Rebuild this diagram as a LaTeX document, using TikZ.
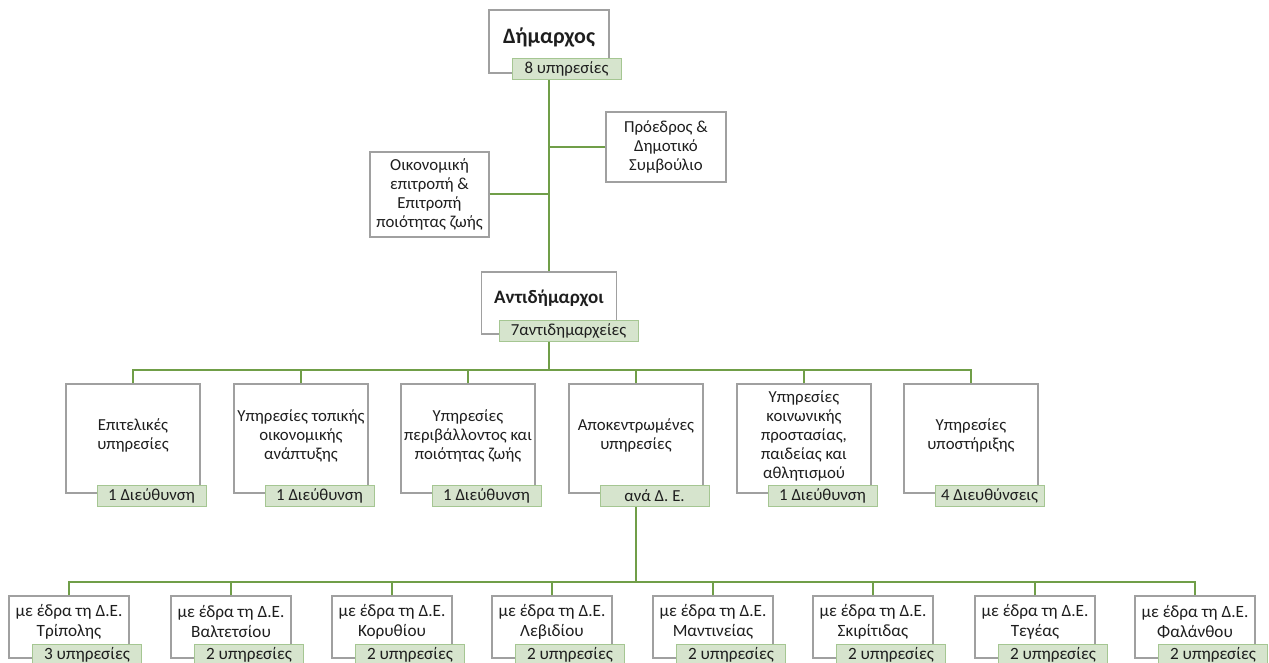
\documentclass[tikz,border=0pt]{standalone}
\usepackage{fontspec}
\setmainfont{Carlito}
\definecolor{boxgray}{RGB}{160,160,160}
\definecolor{conngreen}{RGB}{112,158,72}
\definecolor{tagfill}{RGB}{214,228,205}
\definecolor{tagdraw}{RGB}{165,198,146}
\definecolor{textc}{RGB}{30,30,30}
\begin{document}
\begin{tikzpicture}[x=1pt,y=-1pt,
  box/.style={draw=boxgray, line width=1.3pt, fill=white, inner sep=0pt},
  txt/.style={align=center, text=textc, font=\fontsize{16.8}{19}\selectfont},
  txtb/.style={align=center, text=textc, font=\fontsize{17.2}{20}\selectfont},
  big/.style={text=textc, font=\fontsize{19}{22}\selectfont\bfseries},
  tag/.style={draw=tagdraw, fill=tagfill, line width=1pt, minimum width=109pt, minimum height=21pt, inner sep=0pt, text=textc, font=\fontsize{16.8}{18}\selectfont},
  conn/.style={draw=conngreen, line width=2pt},
  row2/.style={box, minimum width=134pt, minimum height=109pt},
  row3/.style={box, minimum width=120pt, minimum height=62pt}
]
\useasboundingbox (0,0) rectangle (1269,663);
\clip (0,0) rectangle (1269,663);

% top
\node[box, minimum width=120pt, minimum height=63pt, label={[big, font=\fontsize{22}{24}\selectfont\bfseries, yshift=4pt]center:Δήμαρχος}] (dim) at (549,41.5) {};
\node[tag] (dimtag) at (566.5,69) {8 υπηρεσίες};

\node[box, txt, minimum width=120pt, minimum height=70pt] (pro) at (666,147) {Πρόεδρος \&\\Δημοτικό\\Συμβούλιο};
\node[box, txt, minimum width=119pt, minimum height=85pt] (oik) at (429.5,194.5) {Οικονομική\\επιτροπή \&\\Επιτροπή\\ποιότητας ζωής};

\node[box, minimum width=135pt, minimum height=62pt, label={[big, yshift=5pt]center:Αντιδήμαρχοι}] (anti) at (549,303) {};
\node[tag, minimum width=139pt] (antitag) at (568.5,330.5) {7αντιδημαρχείες};

% row 2
\foreach \n/\x/\t/\g in {
  1/133/{Επιτελικές\\υπηρεσίες}/{1 Διεύθυνση},
  2/301/{Υπηρεσίες τοπικής\\οικονομικής\\ανάπτυξης}/{1 Διεύθυνση},
  3/468/{Υπηρεσίες\\περιβάλλοντος και\\ποιότητας ζωής}/{1 Διεύθυνση},
  4/636/{Αποκεντρωμένες\\υπηρεσίες}/{ανά Δ. Ε.},
  5/804/{Υπηρεσίες\\κοινωνικής\\προστασίας,\\παιδείας και\\αθλητισμού}/{1 Διεύθυνση},
  6/971/{Υπηρεσίες\\υποστήριξης}/{4 Διευθύνσεις}}{
  \node[row2, label={[txt, yshift=3pt]center:{\t}}] (b\n) at (\x,438.5) {};
  \node[tag] (b\n tag) at (\x+18.5,495.5) {\g};
}

% row 3
\foreach \n/\x/\t/\g in {
  1/69/Τρίπολης/3,
  2/231/Βαλτετσίου/2,
  3/392/Κορυθίου/2,
  4/552/Λεβιδίου/2,
  5/713/Μαντινείας/2,
  6/873/Σκιρίτιδας/2,
  7/1035/Τεγέας/2,
  8/1195/Φαλάνθου/2}{
  \node[row3, label={[txtb, yshift=5pt]center:{με έδρα τη Δ.Ε.\\\t}}] (c\n) at (\x,627) {};
  \node[tag, font=\fontsize{17.2}{18}\selectfont] (c\n tag) at (\x+18,654.5) {\g\ υπηρεσίες};
}

% connectors
\coordinate (bar2) at (0,370);
\coordinate (bar3) at (0,582);
\draw[conn] (dim.south |- dimtag.south) -- (anti.north);
\draw[conn] (pro.west) -- (pro.west -| dim.south);
\draw[conn] (oik.east) -- (oik.east -| dim.south);
\draw[conn] (anti.south |- antitag.south) -- (anti.south |- bar2);
\draw[conn] (b1.north) -- (b1.north |- bar2) -- (b6.north |- bar2) -- (b6.north);
\foreach \n in {2,3,4,5}{\draw[conn] (b\n.north) -- (b\n.north |- bar2);}
\draw[conn] (b4.south |- b4tag.south) -- (b4.south |- bar3);
\draw[conn] (c1.north) -- (c1.north |- bar3) -- (c8.north |- bar3) -- (c8.north);
\foreach \n in {2,...,7}{\draw[conn] (c\n.north) -- (c\n.north |- bar3);}
\end{tikzpicture}
\end{document}
